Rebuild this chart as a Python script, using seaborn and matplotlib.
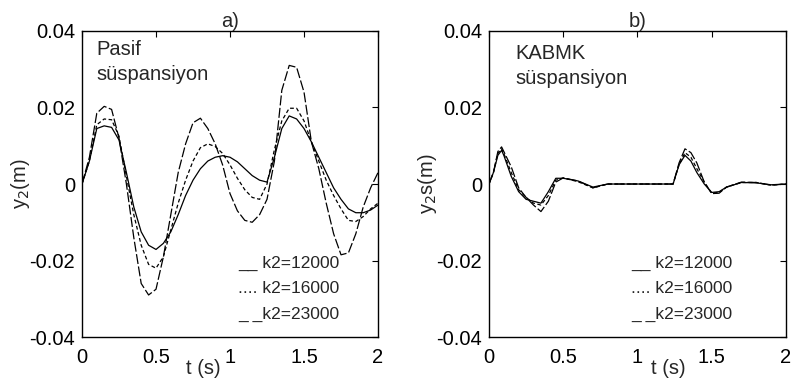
import numpy as np
import pandas as pd
import matplotlib
matplotlib.use("Agg")
import matplotlib.pyplot as plt
import seaborn as sns

# ---- data ----
t_a = [0.00, 0.05, 0.10, 0.15, 0.20, 0.25, 0.30, 0.35, 0.40, 0.45,
       0.50, 0.55, 0.60, 0.65, 0.70, 0.75, 0.80, 0.85, 0.90, 0.95,
       1.00, 1.05, 1.10, 1.15, 1.20, 1.25, 1.30, 1.35, 1.40, 1.45,
       1.50, 1.55, 1.60, 1.65, 1.70, 1.75, 1.80, 1.85, 1.90, 1.95, 2.00]

pasif_12000 = [0.0, 0.006, 0.0145, 0.0152, 0.0148, 0.0115, 0.003, -0.006, -0.0125, -0.016,
               -0.0171, -0.0155, -0.0125, -0.008, -0.003, 0.001, 0.004, 0.006, 0.007, 0.0074,
               0.007, 0.0058, 0.004, 0.0022, 0.001, 0.0005, 0.007, 0.0145, 0.0178, 0.017,
               0.0145, 0.011, 0.007, 0.003, -0.001, -0.004, -0.0065, -0.0075, -0.0075, -0.0068, -0.0055]

pasif_16000 = [0.0, 0.006, 0.0155, 0.017, 0.0168, 0.0125, 0.002, -0.008, -0.016, -0.021,
               -0.022, -0.019, -0.012, -0.005, 0.001, 0.006, 0.0095, 0.0105, 0.0098, 0.008,
               0.005, 0.0015, -0.0015, -0.0035, -0.004, 0.0, 0.009, 0.0165, 0.0198, 0.0198,
               0.0165, 0.011, 0.006, 0.001, -0.003, -0.0065, -0.0095, -0.0098, -0.0085, -0.0065, -0.005]

pasif_23000 = [0.0, 0.007, 0.0185, 0.0203, 0.0195, 0.012, 0.0, -0.014, -0.026, -0.029,
               -0.0275, -0.019, -0.008, 0.003, 0.0105, 0.016, 0.0172, 0.0145, 0.0105, 0.005,
               -0.0025, -0.007, -0.0095, -0.010, -0.008, -0.004, 0.006, 0.0245, 0.031, 0.0305,
               0.024, 0.011, 0.004, -0.005, -0.013, -0.0185, -0.018, -0.013, -0.006, -0.001, 0.003]

t_b = [0.0, 0.03, 0.06, 0.085, 0.10, 0.15, 0.20, 0.25, 0.30, 0.35, 0.40, 0.45, 0.50,
       0.60, 0.70, 0.80, 1.00, 1.20, 1.24, 1.28, 1.32, 1.36, 1.40, 1.45, 1.50, 1.55,
       1.60, 1.70, 1.80, 1.90, 2.00]

kabmk_12000 = [0, 0.003, 0.0075, 0.0088, 0.0075, 0.002, -0.002, -0.004, -0.0045, -0.005, -0.002,
               0.0015, 0.0015, 0.0008, -0.0008, 0, 0, 0, 0, 0.005, 0.0075, 0.006, 0.003, 0.0,
               -0.0022, -0.002, -0.0008, 0.0004, 0.0003, -0.0002, 0]
kabmk_16000 = [0, 0.003, 0.008, 0.0092, 0.008, 0.003, -0.0015, -0.0035, -0.005, -0.0055, -0.003,
               0.001, 0.0016, 0.0006, -0.001, 0, 0, 0, 0, 0.005, 0.0082, 0.007, 0.004, 0.0005,
               -0.0024, -0.0022, -0.0008, 0.0004, 0.0004, -0.0003, 0]
kabmk_23000 = [0, 0.003, 0.0085, 0.0097, 0.0085, 0.0045, -0.001, -0.0035, -0.0055, -0.0072, -0.0045,
               0.0005, 0.0016, 0.0008, -0.001, 0, 0, 0, 0, 0.0055, 0.0092, 0.0082, 0.0055, 0.0005,
               -0.0025, -0.0024, -0.0008, 0.0005, 0.0004, -0.0003, 0]

k2_labels = ["12000", "16000", "23000"]
legend_marks = ["__ ", ".... ", "_ _"]


def long_form(t, series):
    frames = []
    for lab, vals in zip(k2_labels, series):
        frames.append(pd.DataFrame({"t": t, "y": vals, "k2": lab}))
    return pd.concat(frames, ignore_index=True)


df_a = long_form(t_a, [pasif_12000, pasif_16000, pasif_23000])
df_b = long_form(t_b, [kabmk_12000, kabmk_16000, kabmk_23000])

sns.set_theme(style="white")
plt.rcParams['font.family'] = ['Liberation Sans', 'DejaVu Sans']

fig = plt.figure(figsize=(7.93, 3.87), dpi=100)
ax_a = fig.add_axes([0.1034, 0.129, 0.3733, 0.791])
ax_b = fig.add_axes([0.6166, 0.129, 0.3745, 0.791])

dashes = {"12000": "", "16000": (3, 2), "23000": (8, 2)}

# axes, data, title, ylabel, note, note pos, xlabel pos, legend x
panels = [
    (ax_a, df_a, "a)", "y$_2$(m)", "Pasif\nsüspansiyon", (0.05, 0.972), 0.41, 1.054),
    (ax_b, df_b, "b)", "y$_2$s(m)", "KABMK\nsüspansiyon", (0.09, 0.957), 0.603, 0.955),
]

for ax, df, title, ylab, note, note_xy, xlab_pos, leg_x in panels:
    sns.lineplot(data=df, x="t", y="y", style="k2", dashes=dashes, color="black",
                 linewidth=0.9, legend=False, ax=ax)
    ax.set_xlim(0, 2)
    ax.set_ylim(-0.04, 0.04)
    ax.set_xticks([0, 0.5, 1, 1.5, 2])
    ax.set_xticklabels(["0", "0.5", "1", "1.5", "2"])
    ax.set_yticks([-0.04, -0.02, 0, 0.02, 0.04])
    ax.set_yticklabels(["-0.04", "-0.02", "0", "0.02", "0.04"])
    ax.tick_params(direction="in", length=4, width=0.8, top=True, right=True,
                   labelsize=14.5, colors="black")
    ax.tick_params(axis="x", pad=8)
    ax.tick_params(axis="y", pad=5)
    for s in ax.spines.values():
        s.set_color("black")
        s.set_linewidth(1.0)
    ax.set_title(title, fontsize=14.5, pad=3)
    ax.set_xlabel("t (s)", fontsize=14.5)
    ax.xaxis.set_label_coords(xlab_pos, -0.07)
    ax.set_ylabel(ylab, fontsize=14.5, labelpad=-2)
    ax.text(note_xy[0], note_xy[1], note, transform=ax.transAxes,
            fontsize=14.5, va="top", ha="left", linespacing=1.4)
    for i, (mark, lab) in enumerate(zip(legend_marks, k2_labels)):
        ax.text(leg_x, -0.0207 - i * 0.0067, mark + "k2=" + lab, fontsize=12.5,
                va="center", ha="left")

fig.savefig("out.png", dpi=100)
